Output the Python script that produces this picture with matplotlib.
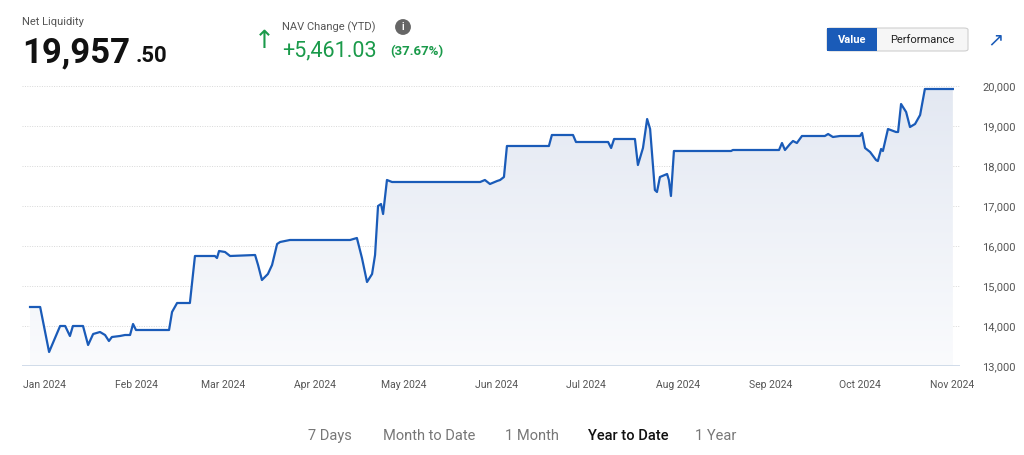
import matplotlib.pyplot as plt
from matplotlib.patches import FancyBboxPatch, Rectangle
import numpy as np

# day of year (0 = Jan 1 2024) and net liquidity values
days = [-4.7, -1.3, 1.7, 5.4, 7.1, 8.7, 9.7, 13.1, 14.8, 16.5, 18.8, 20.5, 21.8, 22.8, 25.5,
        27.2, 28.9, 29.9, 30.9, 42.0, 43.0, 44.7, 49.0, 50.7, 57.4, 58.1, 58.8, 60.8, 62.5,
        70.9, 71.9, 73.2, 75.2, 76.6, 78.3, 79.3, 82.6, 102.8, 105.1, 106.8, 108.5, 110.2,
        111.2, 112.2, 113.2, 113.9, 115.2, 116.9, 146.5, 148.1, 149.8, 152.2, 153.2, 154.5,
        155.5, 169.6, 170.6, 177.7, 178.7, 189.5, 190.5, 191.5, 198.5, 199.5, 201.2, 202.6,
        203.6, 205.2, 205.9, 206.9, 209.3, 209.9, 210.6, 211.6, 230.8, 231.4, 246.9, 247.9,
        248.9, 250.6, 251.6, 252.9, 254.6, 262.3, 263.4, 265.0, 267.4, 274.1, 274.8, 275.8,
        277.5, 279.5, 280.1, 281.2, 281.8, 283.5, 286.2, 286.9, 287.9, 289.6, 290.9, 292.6,
        294.3, 295.9, 305.3]
values = [14475, 14475, 13350, 14000, 14000, 13750, 14000, 14000, 13525, 13800, 13850, 13775,
          13625, 13725, 13750, 13775, 13775, 14050, 13900, 13900, 14350, 14575, 14575, 15750,
          15750, 15700, 15875, 15850, 15750, 15775, 15525, 15150, 15300, 15525, 16050, 16100,
          16150, 16150, 16200, 15700, 15100, 15300, 15775, 17000, 17050, 16800, 17650, 17600,
          17600, 17650, 17550, 17625, 17650, 17725, 18500, 18500, 18775, 18775, 18600, 18600,
          18450, 18675, 18675, 18025, 18450, 19175, 18925, 17400, 17350, 17725, 17800, 17650,
          17250, 18375, 18375, 18400, 18400, 18575, 18400, 18550, 18625, 18575, 18750, 18750,
          18800, 18725, 18750, 18750, 18825, 18450, 18350, 18150, 18125, 18425, 18375, 18925,
          18850, 18850, 19550, 19350, 18975, 19050, 19275, 19925, 19925]

month_days = [0, 31, 60, 91, 121, 152, 182, 213, 244, 274, 305]
month_labels = ["Jan 2024", "Feb 2024", "Mar 2024", "Apr 2024", "May 2024", "Jun 2024",
                "Jul 2024", "Aug 2024", "Sep 2024", "Oct 2024", "Nov 2024"]
yticks = [13000, 14000, 15000, 16000, 17000, 18000, 19000, 20000]
ranges = ["7 Days", "Month to Date", "1 Month", "Year to Date", "1 Year"]

plt.rcParams['font.family'] = ['Roboto', 'DejaVu Sans']
fig = plt.figure(figsize=(10.24, 4.55), dpi=100)
ax = fig.add_axes([22 / 1024, 89 / 455, 938 / 1024, 280 / 455])

line_color = "#1a5bb8"
ax.plot(days, values, color=line_color, lw=1.6, zorder=3)
fill = ax.fill_between(days, values, 13000, color="none")
grad = np.linspace(0, 1, 256).reshape(-1, 1)
img = ax.imshow(grad, extent=[days[0], days[-1], 13000, 20000], aspect="auto",
                cmap=plt.matplotlib.colors.LinearSegmentedColormap.from_list(
                    "g", ["#fafbfd", "#e3e8f2"]), origin="lower", zorder=1)
img.set_clip_path(fill.get_paths()[0], transform=ax.transData)

ax.set_xlim(-7.4, 307.7)
ax.set_ylim(13000, 20000)
ax.set_xticks(month_days)
ax.set_xticklabels(month_labels, fontsize=7.5, color="#555555")
ax.yaxis.tick_right()
ax.set_yticks(yticks)
ax.set_yticklabels([f"{v:,}" for v in yticks], fontsize=8, color="#555555")
ax.tick_params(length=0, pad=10)
ax.tick_params(axis="y", pad=16)
for s in ax.spines.values():
    s.set_visible(False)
for v in yticks[1:]:
    ax.axhline(v, color="#d8d8d8", lw=0.7, ls=(0, (1, 1.5)), zorder=0)
ax.axhline(13000, color="#c9d6e6", lw=1.2, zorder=2)

# header
fig.text(22 / 1024, 1 - 22 / 455, "Net Liquidity", fontsize=8, color="#555555", va="center")
fig.text(22 / 1024, 1 - 53 / 455, "19,957", fontsize=25, fontweight="bold", color="#111111", va="center")
fig.text(136 / 1024, 1 - 56 / 455, ".50", fontsize=16, fontweight="bold", color="#111111", va="center")
fig.text(254 / 1024, 1 - 41 / 455, "\u2191", fontsize=18, color="#1a9a4a", va="center")
fig.text(282 / 1024, 1 - 27 / 455, "NAV Change (YTD)", fontsize=8, color="#555555", va="center")
fig.text(403 / 1024, 1 - 27 / 455, "i", fontsize=7, color="white", fontweight="bold", va="center",
         ha="center", bbox=dict(boxstyle="circle,pad=0.3", fc="#666666", ec="none"))
fig.text(282 / 1024, 1 - 51 / 455, "+5,461.03", fontsize=15.5, color="#1a9a4a", va="center")
fig.text(390 / 1024, 1 - 52 / 455, "(37.67%)", fontsize=9.5, color="#1a9a4a", va="center",
         fontweight="bold")

# toggle buttons
fig.patches.append(FancyBboxPatch((827 / 1024, 1 - 51 / 455), 141 / 1024, 23 / 455,
                                  boxstyle="round,pad=0,rounding_size=0.004",
                                  transform=fig.transFigure, fc="#f6f6f6", ec="#cfcfcf", lw=0.8))
fig.patches.append(Rectangle((827 / 1024, 1 - 51 / 455), 50 / 1024, 23 / 455,
                             transform=fig.transFigure, fc="#1a5bb8", ec="none"))
fig.text(852 / 1024, 1 - 40 / 455, "Value", fontsize=8, color="white", fontweight="bold",
         ha="center", va="center")
fig.text(922 / 1024, 1 - 40 / 455, "Performance", fontsize=8, color="#222222", ha="center", va="center")
fig.text(995 / 1024, 1 - 40 / 455, "\u2197", fontsize=14, color="#1a5bb8", ha="center", va="center")

xs = [330, 429, 532, 628, 716]
for x, r in zip(xs, ranges):
    sel = r == "Year to Date"
    fig.text(x / 1024, 1 - 436 / 455, r, fontsize=10.5, ha="center", va="center",
             color="#111111" if sel else "#777777", fontweight="medium" if sel else "normal")

fig.savefig("out.png", dpi=100)
